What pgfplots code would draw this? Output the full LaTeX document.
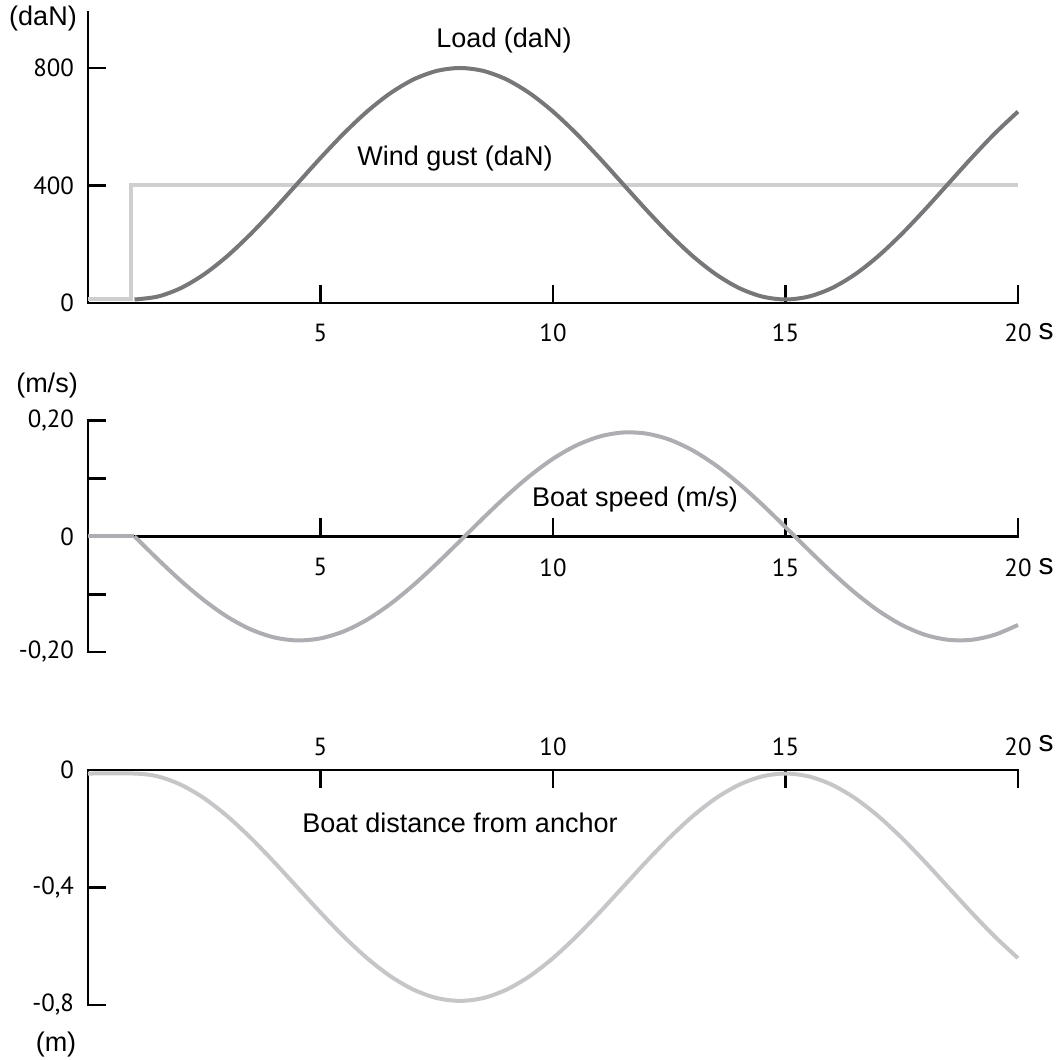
\documentclass[border=0pt]{standalone}
\usepackage{fontspec}
\setmainfont{Liberation Sans}
\newfontfamily\tickfont{PT Sans}
\usepackage{pgfplots}
\pgfplotsset{compat=1.18}
\definecolor{loadc}{HTML}{77777A}
\definecolor{gustc}{HTML}{CFCFCF}
\definecolor{speedc}{HTML}{AEAEB2}
\definecolor{distc}{HTML}{C6C6C8}
\pgfplotsset{
 myaxis/.style={
  scale only axis, width=465pt, xmin=0, xmax=20, clip=false,
  major tick length=9pt,
  every tick/.style={black, line width=1.35pt},
  xtick={5,10,15,20}, xticklabels={5,10,15,20},
  tick label style={font=\tickfont\fontsize{12.4}{14}\selectfont},
  yticklabel style={anchor=east, xshift=-3.5pt},
  anchor=south west,
 },
 fixlines/.style={
  axis line style={-, line width=1.35pt, black, line cap=rect},
  x axis line style={-}, y axis line style={-},
  xtick align=inside, ytick align=inside,
 }
}
\newcommand{\lab}{\fontsize{13.5}{16}\selectfont}
\begin{document}
\begin{tikzpicture}
\useasboundingbox (0,0) rectangle (530.5pt,-530pt);
% ---- Plot 1: load
\begin{axis}[myaxis, at={(44pt,-151.5pt)}, height=145.5pt,
  ymin=0, ymax=990.6, axis x line=bottom, axis y line=left, fixlines,
  ytick={0,400,800}, yticklabels={0,400,800},
  xticklabel style={anchor=center, yshift=-15pt}]
\addplot[gustc, line width=2pt, line join=miter] coordinates {(0,12) (0.93,12) (0.93,400) (20,400)};
\addplot[loadc, line width=2pt, smooth] coordinates {
(1,12) (1.5,21.9) (2,51.0) (2.5,98.0) (3,160.3) (3.5,235.1) (4,318.3) (4.5,406) (5,493.7) (5.5,577.0) (6,651.6) (6.5,714.0) (7,761.0) (7.5,790.1) (8,800)
(8.5,790.1) (9,761.0) (9.5,714.0) (10,651.6) (10.5,577.0) (11,493.7) (11.5,406) (12,318.3) (12.5,235.1) (13,160.3) (13.5,98.0) (14,51.0) (14.5,21.9) (15,12)
(15.5,21.9) (16,51.0) (16.5,98.0) (17,160.3) (17.5,235.1) (18,318.3) (18.5,406) (19,493.7) (19.5,577.0) (20,651.6)};
\end{axis}
% ---- Plot 2: speed
\begin{axis}[myaxis, at={(44pt,-326pt)}, height=115.65pt,
  ymin=-0.2, ymax=0.2, axis x line=middle, axis y line=left, fixlines,
  hide obscured x ticks=false, hide obscured y ticks=false,
  ytick={-0.2,-0.1,0,0.1,0.2}, yticklabels={{-0,20},{},0,{},{0,20}},
  xticklabel style={anchor=center, yshift=-15.5pt}]
\addplot[speedc, line width=2pt] coordinates {(0,0) (1,0)};
\addplot[speedc, line width=2pt, smooth] coordinates {
(1,0) (1.5,-0.0395) (2,-0.0771) (2.5,-0.1108) (3,-0.1393) (3.5,-0.1609) (4,-0.1747) (4.5,-0.1800) (5,-0.1764) (5.5,-0.1643) (6,-0.1442) (6.5,-0.1171) (7,-0.0842) (7.5,-0.0472) (8,-0.0080)
(8.5,0.0317) (9,0.0698) (9.5,0.1045) (10,0.1342) (10.5,0.1572) (11,0.1726) (11.5,0.1796) (12,0.1778) (12.5,0.1674) (13,0.1488) (13.5,0.1230) (14,0.0912) (14.5,0.0549) (15,0.0159)
(15.5,-0.0238) (16,-0.0624) (16.5,-0.0979) (17,-0.1287) (17.5,-0.1532) (18,-0.1702) (18.5,-0.1789) (19,-0.1789) (19.5,-0.1702) (20,-0.1532)};
\end{axis}
% ---- Plot 3: distance
\begin{axis}[myaxis, at={(44pt,-502.5pt)}, height=117.5pt,
  ymin=-0.8, ymax=0, axis x line=top, axis y line=left, fixlines,
  ytick={-0.8,-0.4,0}, yticklabels={{-0,8},{-0,4},0},
  xticklabel style={anchor=center, yshift=11.5pt}]
\addplot[distc, line width=2pt, smooth] coordinates {
(0,-0.012) (1,-0.012) (1.5,-0.0217) (2,-0.0503) (2.5,-0.0964) (3,-0.1577) (3.5,-0.2311) (4,-0.3129) (4.5,-0.399) (5,-0.4851) (5.5,-0.5669) (6,-0.6403) (6.5,-0.7016) (7,-0.7477) (7.5,-0.7763) (8,-0.786)
(8.5,-0.7763) (9,-0.7477) (9.5,-0.7016) (10,-0.6403) (10.5,-0.5669) (11,-0.4851) (11.5,-0.399) (12,-0.3129) (12.5,-0.2311) (13,-0.1577) (13.5,-0.0964) (14,-0.0503) (14.5,-0.0217) (15,-0.012)
(15.5,-0.0217) (16,-0.0503) (16.5,-0.0964) (17,-0.1577) (17.5,-0.2311) (18,-0.3129) (18.5,-0.399) (19,-0.4851) (19.5,-0.5669) (20,-0.6403)};
\end{axis}
% ---- texts
\node[font=\lab] at (21.5pt,-9.5pt) {(daN)};
\node[font=\lab] at (23.5pt,-193pt) {(m/s)};
\node[font=\lab] at (28pt,-522.5pt) {(m)};
\node[font=\lab] at (252pt,-20.5pt) {Load (daN)};
\node[font=\lab] at (227.5pt,-79.5pt) {Wind gust (daN)};
\node[font=\lab] at (317.5pt,-250pt) {Boat speed (m/s)};
\node[font=\lab] at (230pt,-411.5pt) {Boat distance from anchor};
\node[font=\fontsize{15}{18}\selectfont] at (523pt,-166pt) {s};
\node[font=\fontsize{15}{18}\selectfont] at (523pt,-283.5pt) {s};
\node[font=\fontsize{15}{18}\selectfont] at (523pt,-372pt) {s};
\end{tikzpicture}
\end{document}
